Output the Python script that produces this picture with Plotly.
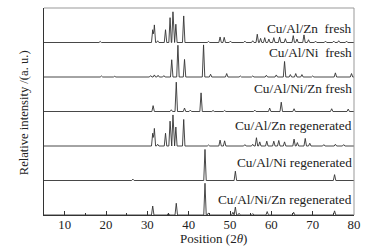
import numpy as np
import plotly.graph_objects as go

# ---- data: peak positions (2theta) and relative heights ----
names = ["Cu/Al/Zn  fresh", "Cu/Al/Ni  fresh", "Cu/Al/Ni/Zn fresh",
         "Cu/Al/Zn regenerated", "Cu/Al/Ni regenerated", "Cu/Al/Ni/Zn regenerated"]

zn_fresh_pos = [18.6, 31.3, 31.7, 32.5, 34.4, 35.5, 36.2, 36.9, 38.8, 44.8, 47.6, 48.6,
                50.1, 53.6, 55.5, 56.6, 57.4, 58.4, 59.4, 60.6, 62.0, 63.4, 65.3, 66.2,
                67.9, 69.0, 70.7, 73.1, 75.1, 76.3, 78.2]
zn_fresh_h = [0.03, 0.37, 0.51, 0.05, 0.37, 0.72, 0.89, 0.53, 0.77, 0.03, 0.16, 0.15,
              0.04, 0.04, 0.05, 0.24, 0.12, 0.14, 0.10, 0.14, 0.16, 0.11, 0.20, 0.10,
              0.22, 0.08, 0.04, 0.04, 0.04, 0.05, 0.04]

ni_fresh_pos = [18.9, 22.1, 30.8, 31.7, 32.6, 34.0, 35.9, 37.4, 39.0, 43.6, 45.3, 49.2,
                52.5, 55.5, 58.8, 61.2, 63.2, 64.6, 65.9, 67.4, 70.0, 75.5, 79.4]
ni_fresh_h = [0.03, 0.02, 0.04, 0.06, 0.05, 0.04, 0.50, 0.92, 0.51, 0.93, 0.08, 0.10,
              0.03, 0.03, 0.05, 0.06, 0.45, 0.07, 0.10, 0.07, 0.03, 0.12, 0.10]

nizn_fresh_pos = [31.4, 35.8, 37.0, 39.0, 40.4, 43.0, 45.9, 48.7, 56.0, 59.6, 62.4,
                  65.5, 74.6, 78.6]
nizn_fresh_h = [0.17, 0.05, 0.85, 0.10, 0.04, 0.54, 0.03, 0.03, 0.04, 0.10, 0.27,
                0.08, 0.08, 0.07]

zn_regen_pos = [31.3, 31.7, 32.5, 34.4, 35.5, 36.2, 36.9, 38.8, 44.8, 47.6, 48.7,
                53.6, 55.5, 56.4, 57.2, 58.9, 60.6, 61.8, 63.2, 65.5, 66.3, 68.2,
                69.3, 72.7, 75.5, 77.5]
zn_regen_h = [0.37, 0.51, 0.05, 0.37, 0.72, 0.90, 0.55, 0.77, 0.03, 0.17, 0.15,
              0.04, 0.05, 0.24, 0.12, 0.14, 0.14, 0.16, 0.12, 0.20, 0.10, 0.22,
              0.08, 0.04, 0.05, 0.04]

ni_regen_pos = [26.5, 43.95, 51.3, 75.3]
ni_regen_h = [0.04, 0.90, 0.27, 0.17]

nizn_regen_pos = [31.3, 35.1, 37.0, 43.95, 44.8, 50.7, 51.3, 52.2, 55.5, 59.0, 65.4, 75.3]
nizn_regen_h = [0.26, 0.05, 0.34, 0.92, 0.06, 0.08, 0.23, 0.05, 0.04, 0.10, 0.08, 0.12]

x_ticks = [10, 20, 30, 40, 50, 60, 70, 80]

series = [(zn_fresh_pos, zn_fresh_h), (ni_fresh_pos, ni_fresh_h),
          (nizn_fresh_pos, nizn_fresh_h), (zn_regen_pos, zn_regen_h),
          (ni_regen_pos, ni_regen_h), (nizn_regen_pos, nizn_regen_h)]

# ---- layout constants ----
HALF_W = 0.3
X0, X1 = 5, 80
label_lift = [0.41, 0.72, 0.67, 0.58, 0.52, 0.44]
FONT = "Liberation Serif, Times New Roman, serif"


def stick_profile(pos, h):
    pos = np.asarray(pos, float)
    h = np.asarray(h, float)
    knots = np.concatenate([[X0, X1], pos - HALF_W, pos, pos + HALF_W])
    knots = np.unique(np.clip(knots, X0, X1))
    y = np.zeros_like(knots)
    for p, hh in zip(pos, h):
        tri = hh * np.clip(1 - np.abs(knots - p) / HALF_W, 0, None)
        y = np.maximum(y, tri)
    return knots, y


fig = go.Figure()
n = len(series)
for i, ((pos, h), name) in enumerate(zip(series, names)):
    off = n - 1 - i
    xs, ys = stick_profile(pos, h)
    fig.add_trace(go.Scatter(x=xs, y=ys + off, mode="lines", name=name,
                             line=dict(color="#333333", width=0.9),
                             showlegend=False, hoverinfo="skip"))
    fig.add_annotation(x=80, y=off + label_lift[i], xref="x", yref="y",
                       text=name.replace("  ", "&nbsp; "), showarrow=False,
                       xanchor="right", yanchor="middle",
                       font=dict(family=FONT, size=13.3, color="#222"))

fig.add_annotation(x=-0.0635, y=0.493, xref="paper", yref="paper",
                   text="Relative intensity /(a. u.)", textangle=-90,
                   xanchor="center", yanchor="middle",
                   showarrow=False, font=dict(family=FONT, size=12.6, color="#222"))
fig.add_annotation(x=0.546, y=-0.112, xref="paper", yref="paper",
                   text="Position (2<i>θ</i>)", showarrow=False,
                   xanchor="center", yanchor="middle",
                   font=dict(family=FONT, size=13.0, color="#222"))

# top and right frame lines (lighter)
fig.add_shape(type="line", xref="paper", yref="paper", x0=0, x1=1, y0=1, y1=1,
              line=dict(color="#999999", width=1))
fig.add_shape(type="line", xref="paper", yref="paper", x0=1, x1=1, y0=0, y1=1,
              line=dict(color="#999999", width=1))

fig.update_layout(
    width=368, height=246,
    margin=dict(l=44, r=9, t=8, b=31),
    plot_bgcolor="white", paper_bgcolor="white",
    font=dict(family=FONT, size=12, color="#222"),
    xaxis=dict(range=[X0, X1], tickvals=x_ticks, ticks="inside", ticklen=4,
               tickcolor="#333", showgrid=False, zeroline=False,
               showline=True, linecolor="#333", linewidth=1,
               ticklabelstandoff=-2,
               tickfont=dict(family=FONT, size=12.8, color="#222"),
               minor=dict(tickvals=[15, 25, 35, 45, 55, 65, 75], ticks="inside",
                          ticklen=2, tickcolor="#333")),
    yaxis=dict(range=[0, 6], showticklabels=False, ticks="", showgrid=False,
               zeroline=False, showline=True, linecolor="#333", linewidth=1),
)

fig.write_html("out.html", config={"displayModeBar": False},
               post_script="document.body.style.margin='0';document.body.style.overflow='hidden';")
